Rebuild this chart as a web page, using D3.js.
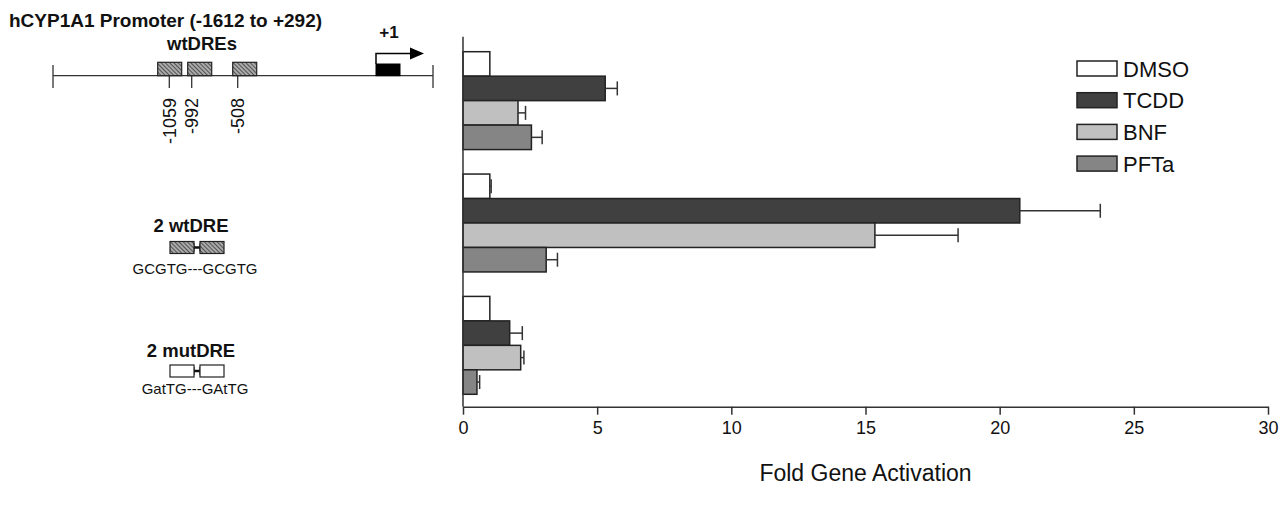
<!DOCTYPE html>
<html>
<head>
<meta charset="utf-8">
<script src="https://d3js.org/d3.v7.min.js"></script>
<style>
body { margin: 0; background: #fff; }
svg { display: block; font-family: "Liberation Sans", Arial, sans-serif; }
.axis path, .axis line { stroke: #333; stroke-width: 1.5px; }
.axis text { font-size: 18px; fill: #111; }
</style>
<title>hCYP1A1 fold gene activation</title>
</head>
<body>
<script>
var groups = ["hCYP1A1 Promoter", "2 wtDRE", "2 mutDRE"];
var series = ["DMSO", "TCDD", "BNF", "PFTa"];
var colors = ["#ffffff", "#404040", "#c0c0c0", "#858585"];

// fold activation, one value per group
var dmso = [1.0, 1.0, 1.0];
var tcdd = [5.3, 20.75, 1.74];
var bnf  = [2.05, 15.35, 2.15];
var pfta = [2.55, 3.1, 0.52];

var dmsoErr = [0, 0.05, 0];
var tcddErr = [0.45, 3.0, 0.47];
var bnfErr  = [0.28, 3.1, 0.12];
var pftaErr = [0.4, 0.42, 0.1];

var xTicks = [0, 5, 10, 15, 20, 25, 30];

var values = [dmso, tcdd, bnf, pfta];
var errors = [dmsoErr, tcddErr, bnfErr, pftaErr];

var rows = [];
groups.forEach(function(g, gi) {
  series.forEach(function(s, si) {
    rows.push({group: g, series: s, value: values[si][gi], err: errors[si][gi], color: colors[si]});
  });
});

var svg = d3.select("body").append("svg")
    .attr("width", 1285)
    .attr("height", 511);

var x = d3.scaleLinear().domain([0, 30]).range([463, 1268]);

var y = d3.scaleBand().domain(groups).range([51.7, 394.3]).paddingInner(0.2);
var yInner = d3.scaleBand().domain(series).range([0, y.bandwidth()]);

// bars
svg.selectAll("rect.bar")
    .data(rows)
  .enter().append("rect")
    .attr("class", "bar")
    .attr("x", x(0))
    .attr("y", function(d) { return y(d.group) + yInner(d.series); })
    .attr("width", function(d) { return x(d.value) - x(0); })
    .attr("height", yInner.bandwidth())
    .style("fill", function(d) { return d.color; })
    .style("stroke", "#222")
    .style("stroke-width", 1.5);

// error bars
var eb = svg.selectAll("g.err")
    .data(rows.filter(function(d) { return d.err > 0; }))
  .enter().append("g")
    .attr("class", "err")
    .style("stroke", "#333")
    .style("stroke-width", 1.5);

eb.append("line")
    .attr("x1", function(d) { return x(d.value); })
    .attr("x2", function(d) { return x(d.value + d.err); })
    .attr("y1", function(d) { return y(d.group) + yInner(d.series) + yInner.bandwidth() / 2; })
    .attr("y2", function(d) { return y(d.group) + yInner(d.series) + yInner.bandwidth() / 2; });

eb.append("line")
    .attr("x1", function(d) { return x(d.value + d.err); })
    .attr("x2", function(d) { return x(d.value + d.err); })
    .attr("y1", function(d) { return y(d.group) + yInner(d.series) + yInner.bandwidth() / 2 - 7; })
    .attr("y2", function(d) { return y(d.group) + yInner(d.series) + yInner.bandwidth() / 2 + 7; });

// axes
svg.append("g")
    .attr("class", "axis")
    .attr("transform", "translate(0,406.7)")
    .call(d3.axisBottom(x).tickValues(xTicks).tickSize(8).tickPadding(7).tickSizeOuter(0));

svg.append("line")
    .attr("x1", x(0)).attr("x2", x(0))
    .attr("y1", 36.7).attr("y2", 406.7)
    .style("stroke", "#333")
    .style("stroke-width", 1.5);

svg.append("text")
    .attr("x", (x(0) + x(30)) / 2)
    .attr("y", 481)
    .attr("text-anchor", "middle")
    .style("font-size", "23px")
    .style("fill", "#111")
    .text("Fold Gene Activation");

// legend
var legend = svg.selectAll("g.legend")
    .data(series)
  .enter().append("g")
    .attr("class", "legend")
    .attr("transform", function(d, i) { return "translate(1077," + (61 + i * 31.7) + ")"; });

legend.append("rect")
    .attr("width", 40)
    .attr("height", 15)
    .style("fill", function(d, i) { return colors[i]; })
    .style("stroke", "#222")
    .style("stroke-width", 1.5);

legend.append("text")
    .attr("x", 46)
    .attr("y", 15.5)
    .style("font-size", "22px")
    .style("fill", "#111")
    .text(function(d) { return d; });

// promoter diagrams on the left
var defs = svg.append("defs");
var pat = defs.append("pattern")
    .attr("id", "hatch")
    .attr("patternUnits", "userSpaceOnUse")
    .attr("width", 3)
    .attr("height", 3)
    .attr("patternTransform", "rotate(-45)");
pat.append("rect").attr("width", 3).attr("height", 3).style("fill", "#aaa");
pat.append("line").attr("x1", 0).attr("y1", 0).attr("x2", 0).attr("y2", 3)
    .style("stroke", "#2a2a2a").style("stroke-width", 1.4);

var dreSites = [-1059, -992, -508];
var dreTickX = [169.3, 191.7, 237.7];
var dreBoxX = [157.7, 187.7, 232.7];

var left = svg.append("g").style("fill", "#111");

left.append("text")
    .attr("x", 9).attr("y", 26.5)
    .style("font-size", "19px").style("font-weight", "bold")
    .text("hCYP1A1 Promoter (-1612 to +292)");

left.append("text")
    .attr("x", 202).attr("y", 50)
    .attr("text-anchor", "middle")
    .style("font-size", "18.5px").style("font-weight", "bold")
    .text("wtDREs");

left.append("text")
    .attr("x", 389).attr("y", 37.5)
    .attr("text-anchor", "middle")
    .style("font-size", "17px").style("font-weight", "bold")
    .text("+1");

var line = left.append("g").style("stroke", "#333").style("stroke-width", 1.3);
line.append("line").attr("x1", 53).attr("x2", 433).attr("y1", 75.7).attr("y2", 75.7);
line.append("line").attr("x1", 53).attr("x2", 53).attr("y1", 65).attr("y2", 88);
line.append("line").attr("x1", 433).attr("x2", 433).attr("y1", 65).attr("y2", 88);
dreTickX.forEach(function(tx) {
  line.append("line").attr("x1", tx).attr("x2", tx).attr("y1", 75.7).attr("y2", 88);
});

dreBoxX.forEach(function(bx) {
  left.append("rect")
      .attr("x", bx).attr("y", 62.3).attr("width", 24).attr("height", 13.4)
      .style("fill", "url(#hatch)").style("stroke", "#222").style("stroke-width", 1.2);
});

dreSites.forEach(function(s, i) {
  left.append("text")
      .attr("transform", "translate(" + dreTickX[i] + ",98) rotate(-90)")
      .attr("dy", "0.35em")
      .attr("text-anchor", "end")
      .style("font-size", "18px")
      .text(s);
});

// transcription start
left.append("rect")
    .attr("x", 376).attr("y", 64).attr("width", 24).attr("height", 11.7)
    .style("fill", "#000").style("stroke", "#000");
left.append("path")
    .attr("d", "M376,64V53.5H411")
    .style("fill", "none").style("stroke", "#000").style("stroke-width", 1.5);
left.append("path")
    .attr("d", "M410,47.5L424,53.5L410,59.5Z")
    .style("fill", "#000");

// dimer constructs
function dimer(cy, fill, label, seq, labelY, seqY) {
  left.append("text")
      .attr("x", 191).attr("y", labelY)
      .attr("text-anchor", "middle")
      .style("font-size", "18.5px").style("font-weight", "bold")
      .text(label);
  left.append("line")
      .attr("x1", 194).attr("x2", 200).attr("y1", cy).attr("y2", cy)
      .style("stroke", "#111").style("stroke-width", 2.5);
  [[194, cy - 4, cy + 4], [200, cy - 4, cy + 4]].forEach(function(t) {
    left.append("line").attr("x1", t[0]).attr("x2", t[0]).attr("y1", t[1]).attr("y2", t[2])
        .style("stroke", "#111").style("stroke-width", 1.2);
  });
  left.append("rect").attr("x", 170).attr("y", cy - 6).attr("width", 24).attr("height", 12)
      .style("fill", fill).style("stroke", "#222").style("stroke-width", 1.2);
  left.append("rect").attr("x", 200).attr("y", cy - 6).attr("width", 24).attr("height", 12)
      .style("fill", fill).style("stroke", "#222").style("stroke-width", 1.2);
  left.append("text")
      .attr("x", 195).attr("y", seqY)
      .attr("text-anchor", "middle")
      .style("font-size", "15px")
      .text(seq);
}

dimer(247.5, "url(#hatch)", "2 wtDRE", "GCGTG---GCGTG", 231.5, 274);
dimer(371, "#fff", "2 mutDRE", "GatTG---GAtTG", 356.7, 394);
</script>
</body>
</html>
